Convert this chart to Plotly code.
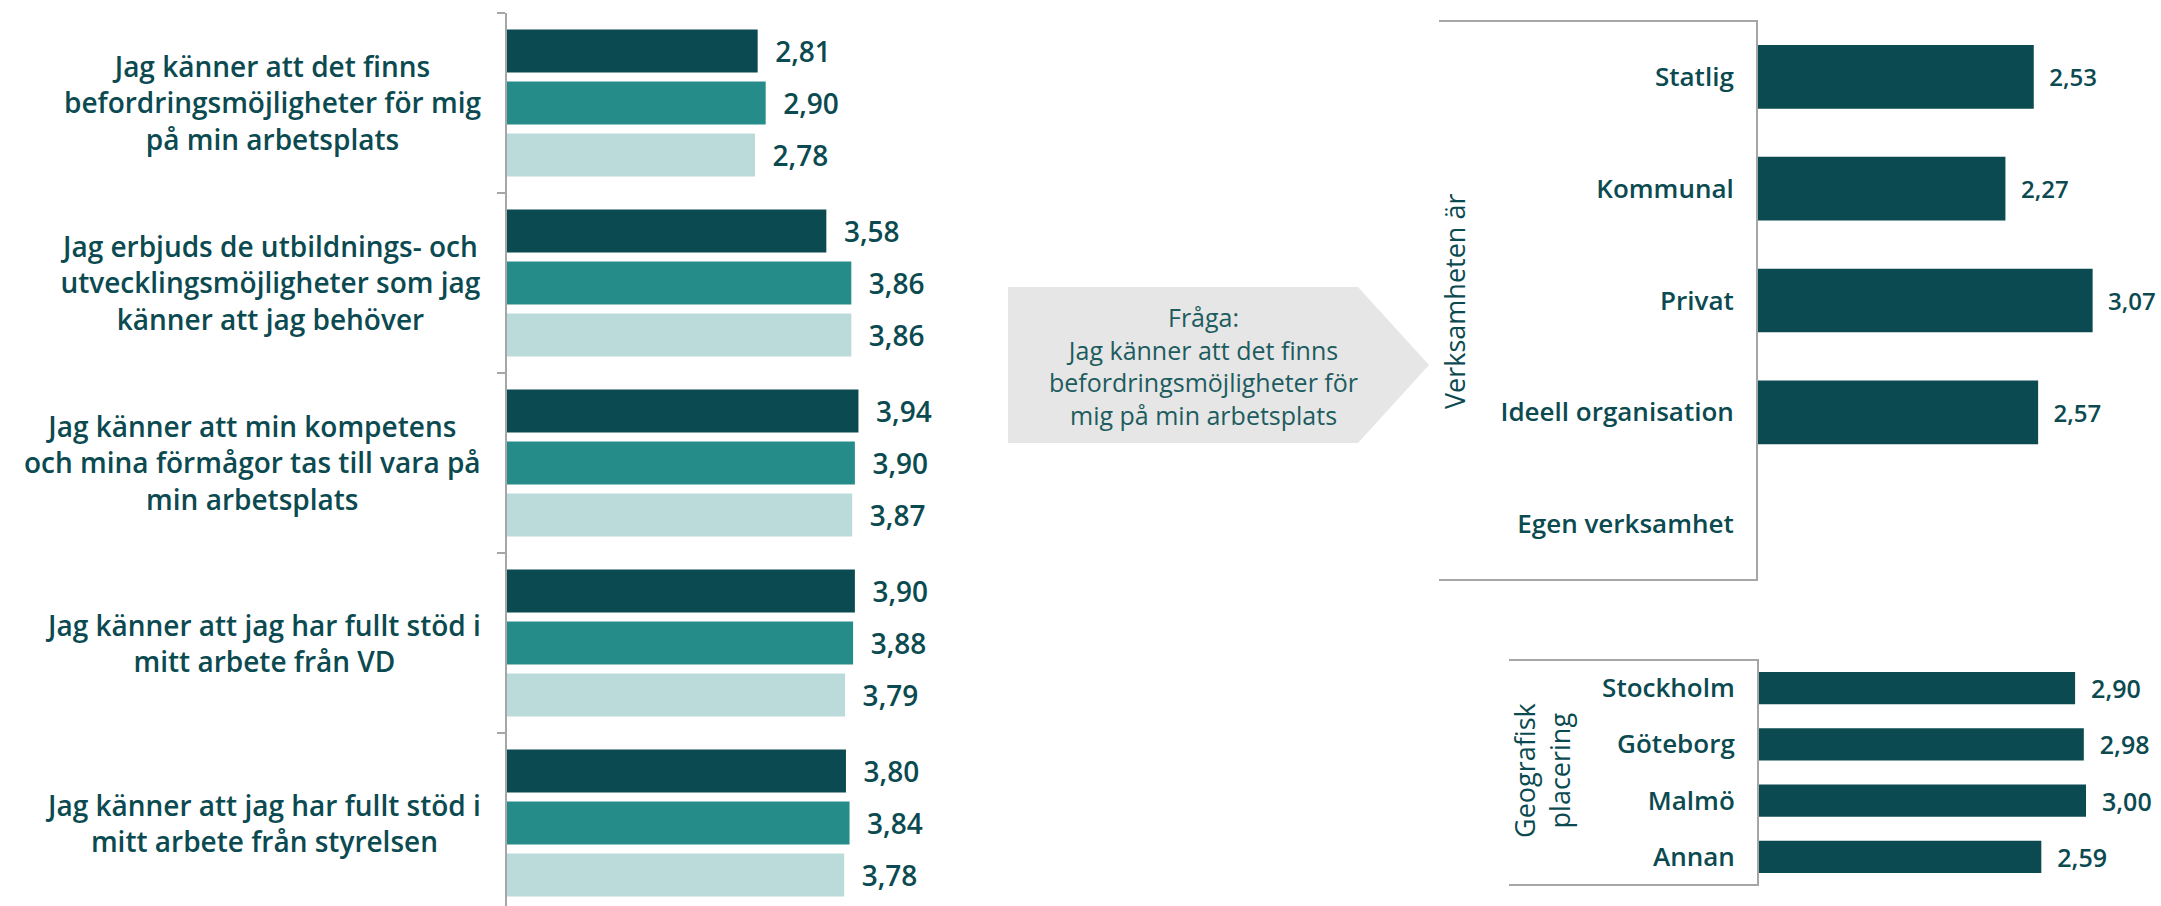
import plotly.graph_objects as go

W, H = 2161, 906

# ---------------- data ----------------
questions = [
    "Jag känner att det finns<br>befordringsmöjligheter för mig<br>på min arbetsplats",
    "Jag erbjuds de utbildnings- och<br>utvecklingsmöjligheter som jag<br>känner att jag behöver",
    "Jag känner att min kompetens<br>och mina förmågor tas till vara på<br>min arbetsplats",
    "Jag känner att jag har fullt stöd i<br>mitt arbete från VD",
    "Jag känner att jag har fullt stöd i<br>mitt arbete från styrelsen",
]
q_keys = ["Q1", "Q2", "Q3", "Q4", "Q5"]
series_1 = [2.81, 3.58, 3.94, 3.90, 3.80]
series_2 = [2.90, 3.86, 3.90, 3.88, 3.84]
series_3 = [2.78, 3.86, 3.87, 3.79, 3.78]

org_types = ["Statlig", "Kommunal", "Privat", "Ideell organisation", "Egen verksamhet"]
org_values = [2.53, 2.27, 3.07, 2.57, None]

regions = ["Stockholm", "Göteborg", "Malmö", "Annan"]
region_values = [2.90, 2.98, 3.00, 2.59]

question_box = "Fråga:<br>Jag känner att det finns<br>befordringsmöjligheter för<br>mig på min arbetsplats"
org_title = "Verksamheten är"
region_title = "Geografisk<br>placering"

# ---------------- style ----------------
DARK = "#0B4A50"
MID = "#268C89"
LIGHT = "#BADBD9"
AXIS = "#A6A6A6"
TXT = "#0B4A50"
FONT = "Open Sans"


def px(x):
    return x / W


def py(y):
    return 1 - y / H


fig = go.Figure()

# ---------- left chart ----------
for vals, col in [(series_1, DARK), (series_2, MID), (series_3, LIGHT)]:
    fig.add_trace(go.Bar(
        y=q_keys, x=vals, orientation="h", marker=dict(color=col, line=dict(width=0)),
        texttemplate="\u00a0\u00a0%{x:.2f}", textposition="outside",
        textfont=dict(family=FONT, size=28, color=TXT, weight=600),
        cliponaxis=False, constraintext="none", showlegend=False,
        xaxis="x", yaxis="y",
    ))

# ---------- top right ----------
fig.add_trace(go.Bar(
    y=org_types, x=org_values, orientation="h", marker=dict(color=DARK, line=dict(width=0)),
    width=0.57, texttemplate="\u00a0\u00a0%{x:.2f}", textposition="outside",
    textfont=dict(family=FONT, size=24, color=TXT, weight=600),
    cliponaxis=False, constraintext="none", showlegend=False,
    xaxis="x2", yaxis="y2",
))

# ---------- bottom right ----------
fig.add_trace(go.Bar(
    y=regions, x=region_values, orientation="h", marker=dict(color=DARK, line=dict(width=0)),
    width=0.57, texttemplate="\u00a0\u00a0%{x:.2f}", textposition="outside",
    textfont=dict(family=FONT, size=25, color=TXT, weight=600),
    cliponaxis=False, constraintext="none", showlegend=False,
    xaxis="x3", yaxis="y3",
))

left_px = 507
left_scale = 89.2
left_R = 4.6
tr_left = 1758
br_left = 1759
r_scale = 109.0

layout = dict(
    width=W, height=H, margin=dict(l=0, r=0, t=0, b=0),
    paper_bgcolor="white", plot_bgcolor="rgba(0,0,0,0)",
    barmode="group", bargap=0.133, bargroupgap=0.17,
    separators=", ",
    font=dict(family=FONT, color=TXT),
    xaxis=dict(domain=[px(left_px), px(left_px + left_scale * left_R)], range=[0, left_R],
               visible=False, anchor="y"),
    yaxis=dict(domain=[0, py(13)], type="category", categoryorder="array", categoryarray=q_keys,
               range=[4.5 - 7 / 180, -0.5], anchor="x",
               showline=True, linecolor=AXIS, linewidth=2, showgrid=False, zeroline=False,
               ticks="outside", tickson="boundaries", ticklen=8, tickcolor=AXIS, tickwidth=2,
               showticklabels=False),
    xaxis2=dict(domain=[px(tr_left), 1], range=[0, (W - tr_left) / r_scale],
                visible=False, anchor="y2"),
    yaxis2=dict(domain=[py(580), py(21)], type="category", categoryorder="array",
                categoryarray=org_types, range=[4.5, -0.5], anchor="x2",
                showline=True, linecolor=AXIS, linewidth=2, showgrid=False, zeroline=False,
                ticks="", ticklabelstandoff=17,
                tickfont=dict(family=FONT, size=26, color=TXT, weight=600)),
    xaxis3=dict(domain=[px(br_left), 1], range=[0, (W - br_left) / r_scale],
                visible=False, anchor="y3"),
    yaxis3=dict(domain=[py(885), py(660)], type="category", categoryorder="array",
                categoryarray=regions, range=[3.5, -0.5], anchor="x3",
                showline=True, linecolor=AXIS, linewidth=2, showgrid=False, zeroline=False,
                ticks="", ticklabelstandoff=17,
                tickfont=dict(family=FONT, size=26, color=TXT, weight=600)),
)
fig.update_layout(**layout)

annotations = []
for key, label in zip(q_keys, questions):
    annotations.append(dict(
        x=px(483), xref="paper", y=key, yref="y", text=label, showarrow=False,
        xanchor="right", yanchor="middle", align="center",
        font=dict(family=FONT, size=28, color=TXT, weight=600),
    ))

annotations.append(dict(
    x=px(1203), y=py(366), xref="paper", yref="paper", text=question_box, showarrow=False,
    xanchor="center", yanchor="middle", align="center",
    font=dict(family=FONT, size=25, color="#1D5C5E", weight=400),
))
annotations.append(dict(
    x=px(1455), y=py(302), xref="paper", yref="paper", text=org_title, showarrow=False,
    textangle=-90, xanchor="center", yanchor="middle",
    font=dict(family=FONT, size=27, color=TXT, weight=500),
))
annotations.append(dict(
    x=px(1542), y=py(771), xref="paper", yref="paper", text=region_title, showarrow=False,
    textangle=-90, xanchor="center", yanchor="middle", align="center",
    font=dict(family=FONT, size=27, color=TXT, weight=500),
))
fig.update_layout(annotations=annotations)

shapes = []
# arrow callout
arrow = [(1008, 287), (1358, 287), (1429, 365), (1358, 443), (1008, 443)]
path = "M " + " L ".join(f"{px(x):.5f},{py(y):.5f}" for x, y in arrow) + " Z"
shapes.append(dict(type="path", path=path, xref="paper", yref="paper",
                   fillcolor="#E6E6E6", line=dict(width=0), layer="below"))
# bracket lines for right charts
for x0, x1, y in [(1439, tr_left, 21), (1439, tr_left, 580), (1509, br_left, 660), (1509, br_left, 885)]:
    shapes.append(dict(type="line", xref="paper", yref="paper",
                       x0=px(x0), x1=px(x1), y0=py(y), y1=py(y),
                       line=dict(color=AXIS, width=2)))
fig.update_layout(shapes=shapes)

fig.write_html(
    "out.html",
    config={"displayModeBar": False},
    post_script="document.body.style.margin='0px';document.body.style.overflow='hidden';",
)
